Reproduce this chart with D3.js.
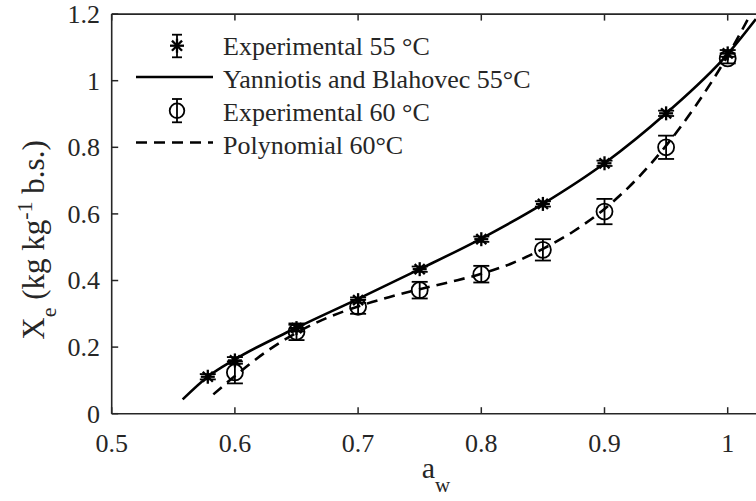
<!DOCTYPE html>
<html><head><meta charset="utf-8">
<script src="https://cdn.jsdelivr.net/npm/d3@7"></script>
<style>body{margin:0;background:#fff}svg{display:block}</style>
</head><body><svg id="c" width="756" height="501" font-family="Liberation Serif, Times New Roman, serif"></svg>
<script>
// ---- data ----
const xTicks = [0.5, 0.6, 0.7, 0.8, 0.9, 1.0];
const yTicks = [0, 0.2, 0.4, 0.6, 0.8, 1.0, 1.2];
const xTickLabels = ["0.5", "0.6", "0.7", "0.8", "0.9", "1"];
const yTickLabels = ["0", "0.2", "0.4", "0.6", "0.8", "1", "1.2"];
const aw55 = [0.578, 0.6, 0.65, 0.7, 0.75, 0.8, 0.85, 0.9, 0.95, 1.0];
const xe55 = [0.111, 0.160, 0.257, 0.341, 0.434, 0.524, 0.630, 0.752, 0.902, 1.082];
const err55 = [0.008, 0.01, 0.01, 0.008, 0.008, 0.008, 0.008, 0.008, 0.008, 0.01];
const aw60 = [0.6, 0.65, 0.7, 0.75, 0.8, 0.85, 0.9, 0.95, 1.0];
const xe60 = [0.124, 0.246, 0.321, 0.371, 0.419, 0.492, 0.607, 0.800, 1.067];
const err60 = [0.033, 0.025, 0.021, 0.025, 0.025, 0.032, 0.038, 0.035, 0.015];
const fitAw = [0.5576, 0.578, 0.6, 0.65, 0.7, 0.75, 0.8, 0.85, 0.9, 0.95, 1.0, 1.0229];
const fitXe = [0.043, 0.111, 0.163, 0.258, 0.345, 0.434, 0.526, 0.630, 0.752, 0.902, 1.080, 1.185];
const polyAw = [0.5825, 0.6, 0.625, 0.65, 0.675, 0.7, 0.725, 0.75, 0.775, 0.8, 0.825, 0.85, 0.875, 0.9, 0.925, 0.95, 0.975, 1.0, 1.02];
const polyXe = [0.058, 0.113, 0.185, 0.243, 0.288, 0.322, 0.35, 0.374, 0.396, 0.42, 0.452, 0.495, 0.548, 0.615, 0.7, 0.805, 0.93, 1.075, 1.21];
const legendLabels = ["Experimental 55 °C", "Yanniotis and Blahovec 55°C", "Experimental 60 °C", "Polynomial 60°C"];

// ---- drawing ----
const svg = d3.select("#c");
const ax = "#262626";
const x = d3.scaleLinear().domain([0.5, 1.05]).range([111.7, 111.7 + 0.55 * 1232]);
const y = d3.scaleLinear().domain([0, 1.2]).range([413.7, 14.1]);
const L = 111.7, R = 756, T = y(1.2), B = y(0);

svg.append("defs").append("clipPath").attr("id", "clip")
  .append("rect").attr("x", L).attr("y", T).attr("width", R - L).attr("height", B - T);

const g = svg.append("g").attr("fill", ax);
g.append("line").attr("x1", L).attr("x2", 800).attr("y1", B).attr("y2", B).attr("stroke", ax).attr("stroke-width", 1.6);
g.append("line").attr("x1", L).attr("x2", 800).attr("y1", T).attr("y2", T).attr("stroke", ax).attr("stroke-width", 1.6);
g.append("line").attr("x1", L).attr("x2", L).attr("y1", T).attr("y2", B).attr("stroke", ax).attr("stroke-width", 1.6);

xTicks.forEach((v, i) => {
  g.append("line").attr("x1", x(v)).attr("x2", x(v)).attr("y1", B).attr("y2", B - 6.5).attr("stroke", ax).attr("stroke-width", 1.5);
  g.append("line").attr("x1", x(v)).attr("x2", x(v)).attr("y1", T).attr("y2", T + 6.5).attr("stroke", ax).attr("stroke-width", 1.5);
  g.append("text").attr("x", x(v)).attr("y", 452).attr("text-anchor", "middle").attr("font-size", 26).text(xTickLabels[i]);
});
yTicks.forEach((v, i) => {
  g.append("line").attr("x1", L).attr("x2", L + 6.5).attr("y1", y(v)).attr("y2", y(v)).attr("stroke", ax).attr("stroke-width", 1.5);
  g.append("text").attr("x", 100).attr("y", y(v)).attr("dy", "0.34em").attr("text-anchor", "end").attr("font-size", 26).text(yTickLabels[i]);
});

const xl = g.append("text").attr("x", 436).attr("y", 478).attr("text-anchor", "middle").attr("font-size", 30);
xl.append("tspan").text("a");
xl.append("tspan").attr("font-size", 21).attr("dy", 14).text("w");

const yl = g.append("text").attr("transform", "translate(44,240) rotate(-90)").attr("text-anchor", "middle").attr("font-size", 31);
yl.append("tspan").text("X");
yl.append("tspan").attr("font-size", 22).attr("dy", 12).text("e");
yl.append("tspan").attr("dy", -12).text(" (kg kg");
yl.append("tspan").attr("font-size", 22).attr("dy", -12).text("-1");
yl.append("tspan").attr("dy", 12).text(" b.s.)");

const line = d3.line().x(d => x(d[0])).y(d => y(d[1])).curve(d3.curveMonotoneX);
const pc = svg.append("g").attr("clip-path", "url(#clip)");
pc.append("path").attr("d", line(fitAw.map((a, i) => [a, fitXe[i]])))
  .attr("fill", "none").attr("stroke", "#000").attr("stroke-width", 2.6);
pc.append("path").attr("d", line(polyAw.map((a, i) => [a, polyXe[i]])))
  .attr("fill", "none").attr("stroke", "#000").attr("stroke-width", 2.6).attr("stroke-dasharray", "11,7");

function asterisk(sel, cx, cy, s) {
  const d = s * 0.72;
  [[-s, 0, s, 0], [0, -s, 0, s], [-d, -d, d, d], [-d, d, d, -d]].forEach(p =>
    sel.append("line").attr("x1", cx + p[0]).attr("y1", cy + p[1]).attr("x2", cx + p[2]).attr("y2", cy + p[3])
      .attr("stroke", "#000").attr("stroke-width", 2.3));
}
function errbar(sel, cx, y1, y2, w) {
  sel.append("line").attr("x1", cx).attr("x2", cx).attr("y1", y1).attr("y2", y2).attr("stroke", "#000").attr("stroke-width", 1.8);
  sel.append("line").attr("x1", cx - w / 2).attr("x2", cx + w / 2).attr("y1", y1).attr("y2", y1).attr("stroke", "#000").attr("stroke-width", 1.8);
  sel.append("line").attr("x1", cx - w / 2).attr("x2", cx + w / 2).attr("y1", y2).attr("y2", y2).attr("stroke", "#000").attr("stroke-width", 1.8);
}
const mk = svg.append("g");
aw60.forEach((a, i) => {
  errbar(mk, x(a), y(xe60[i] + err60[i]), y(xe60[i] - err60[i]), 16);
  mk.append("circle").attr("cx", x(a)).attr("cy", y(xe60[i])).attr("r", 8).attr("fill", "none").attr("stroke", "#000").attr("stroke-width", 1.8);
});
aw55.forEach((a, i) => {
  errbar(mk, x(a), y(xe55[i] + err55[i]), y(xe55[i] - err55[i]), 16);
  asterisk(mk, x(a), y(xe55[i]), 7);
});

const lg = svg.append("g");
const rows = [46, 79.5, 112.5, 145.5];
asterisk(lg, 177, 45.7, 7);
errbar(lg, 177, 34.7, 57.3, 10);
lg.append("line").attr("x1", 136).attr("x2", 213).attr("y1", 77).attr("y2", 77).attr("stroke", "#000").attr("stroke-width", 2.6);
lg.append("circle").attr("cx", 177).attr("cy", 110.7).attr("r", 7.3).attr("fill", "none").attr("stroke", "#000").attr("stroke-width", 1.8);
errbar(lg, 177, 99, 122.3, 10);
lg.append("line").attr("x1", 136).attr("x2", 213).attr("y1", 142.5).attr("y2", 142.5).attr("stroke", "#000").attr("stroke-width", 2.6).attr("stroke-dasharray", "11,7");
legendLabels.forEach((t, i) => {
  lg.append("text").attr("x", 223).attr("y", rows[i]).attr("dy", "0.34em").attr("font-size", 26).attr("fill", ax).text(t);
});
</script></body></html>
